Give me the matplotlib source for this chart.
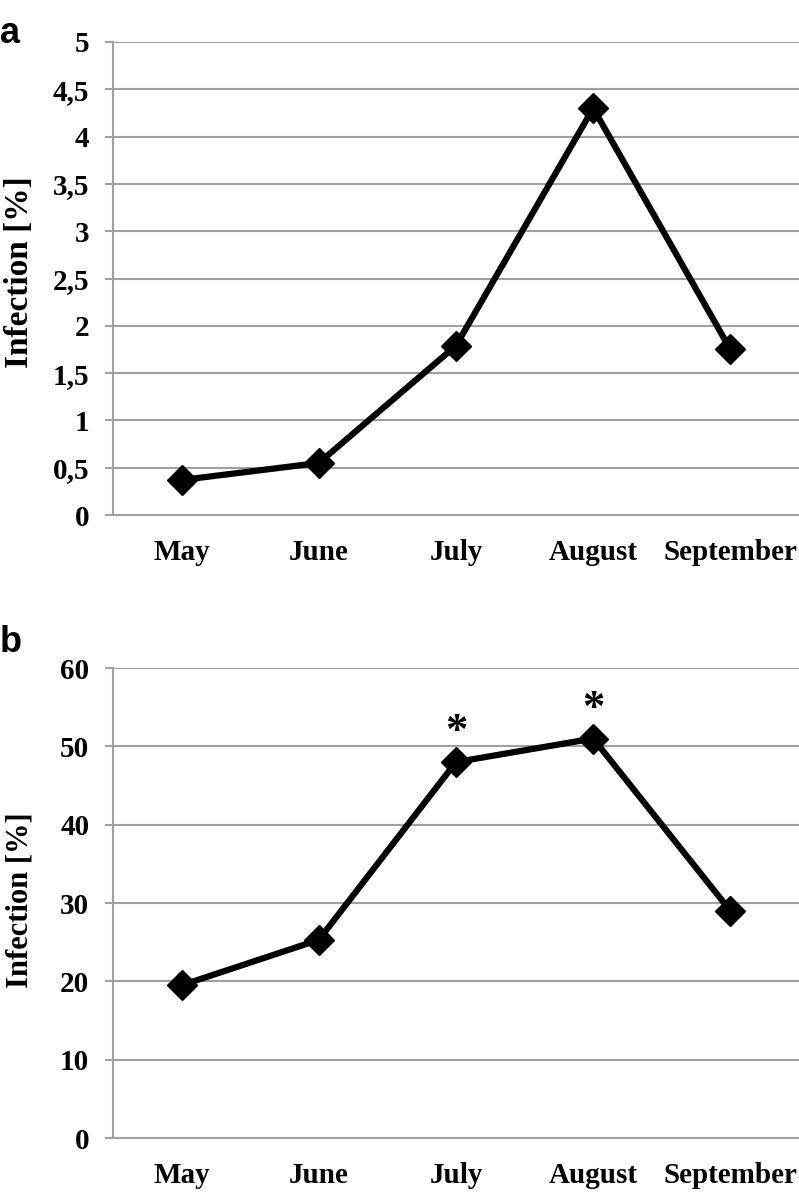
import matplotlib
matplotlib.use('Agg')
import matplotlib.pyplot as plt
from matplotlib.ticker import FuncFormatter

# data
months = ['May', 'June', 'July', 'August', 'September']
infection_a = [0.37, 0.55, 1.79, 4.30, 1.75]
infection_b = [19.5, 25.3, 48.0, 51.0, 29.0]
signif_b = [False, False, True, True, False]

plt.rcParams['font.family'] = ['Liberation Serif', 'DejaVu Serif']
plt.rcParams['font.weight'] = 'bold'

grid_col = '#a0a0a0'

fig = plt.figure(figsize=(7.99, 11.93), dpi=100)
ax_a = fig.add_axes([0.1414, 0.5683, 0.8586, 0.3965])
ax_b = fig.add_axes([0.1414, 0.0461, 0.8586, 0.3939])


def style_axis(ax, ymax, ystep, comma):
    ax.set_xlim(-0.5, len(months) - 0.5)
    ax.set_ylim(0, ymax)
    ticks = [i * ystep for i in range(int(round(ymax / ystep)) + 1)]
    ax.set_yticks(ticks)
    if comma:
        ax.yaxis.set_major_formatter(FuncFormatter(
            lambda v, p: ('%g' % v).replace('.', ',')))
    ax.set_xticks(range(len(months)))
    ax.set_xticklabels(months)
    ax.grid(axis='y', color=grid_col, linewidth=1.5)
    ax.set_axisbelow(True)
    for s in ['top', 'right']:
        ax.spines[s].set_visible(False)
    for s in ['left', 'bottom']:
        ax.spines[s].set_color(grid_col)
        ax.spines[s].set_linewidth(1.5)
    ax.tick_params(axis='y', length=6, width=1.5, color=grid_col,
                   labelsize=21, pad=11)
    ax.tick_params(axis='x', length=0, labelsize=21, pad=17)


style_axis(ax_a, 5, 0.5, True)
style_axis(ax_b, 60, 10, False)

x = list(range(len(months)))
for ax, vals in [(ax_a, infection_a), (ax_b, infection_b)]:
    ax.plot(x, vals, color='black', linewidth=4.5, marker='D',
            markersize=15, clip_on=False, zorder=3)

for i, sig in enumerate(signif_b):
    if sig:
        ax_b.annotate('*', (x[i], infection_b[i]), xytext=(0, 7),
                      textcoords='offset points', ha='center', va='bottom',
                      fontsize=32, fontweight='bold')

# y labels
fig.text(20 / 799, 1 - 272 / 1193, 'Infection [%]', rotation=90, fontsize=24,
         fontweight='bold', ha='center', va='center')
fig.text(20 / 799, 1 - 900 / 1193, 'Infection [%]', rotation=90, fontsize=22,
         fontweight='bold', ha='center', va='center')

fig.text(0.0, 0.987, 'a', fontsize=26, fontweight='bold', family='Liberation Sans',
         va='top', ha='left')
fig.text(0.0, 0.476, 'b', fontsize=26, fontweight='bold', family='Liberation Sans',
         va='top', ha='left')

fig.savefig('out.png', dpi=100)
